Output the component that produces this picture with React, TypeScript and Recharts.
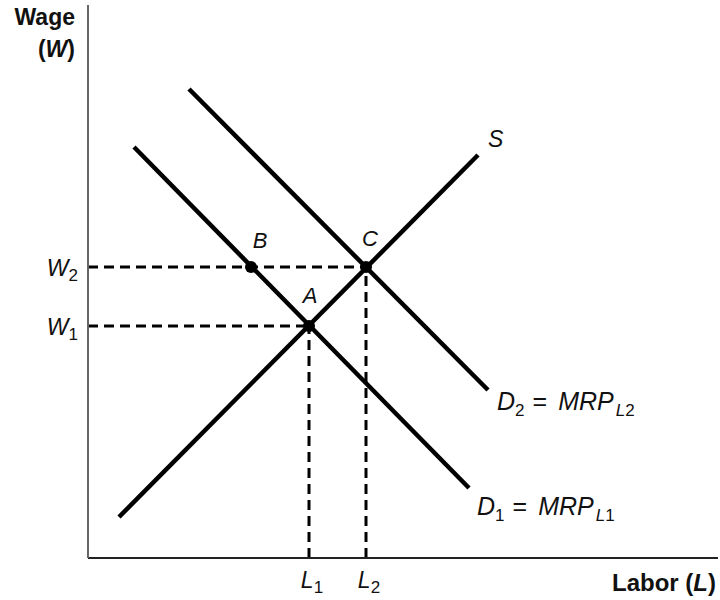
import { ComposedChart, Line, XAxis, YAxis, ReferenceLine, ReferenceDot } from "recharts"

// labor (x) and wage (y) in arbitrary units
const supplyX = [3.1, 39.0]
const supplyY = [4.1, 40.3]
const demand1X = [4.6, 38.1]
const demand1Y = [41.1, 7.0]
const demand2X = [10.1, 40.0]
const demand2Y = [46.9, 16.8]

const pointNames = ["A", "B", "C"]
const pointX = [22.1, 16.3, 27.8]
const pointY = [23.2, 29.1, 29.1]

const wageTicks = [23.2, 29.1]
const wageSubs = ["1", "2"]
const laborTicks = [22.1, 27.8]
const laborSubs = ["1", "2"]

const FONT = "'Liberation Sans', Arial, Helvetica, sans-serif"

const toSeries = (xs: number[], ys: number[]) => xs.map((x, i) => ({ x, y: ys[i] }))
const supply = toSeries(supplyX, supplyY)
const demand1 = toSeries(demand1X, demand1Y)
const demand2 = toSeries(demand2X, demand2Y)

// label placement relative to each point (pixels)
const pointLabelOffset: Record<string, [number, number]> = {
  A: [1, -23],
  B: [9, -19],
  C: [4, -21],
}

const center = (props: any) => {
  const vb = props.viewBox ?? { x: props.x, y: props.y, width: 0, height: 0 }
  return { cx: vb.x + (vb.width || 0) / 2, cy: vb.y + (vb.height || 0) / 2 }
}

const PointLabel = (name: string) => (props: any) => {
  const { cx, cy } = center(props)
  const [dx, dy] = pointLabelOffset[name]
  return (
    <text x={cx + dx} y={cy + dy} textAnchor="middle" fontFamily={FONT} fontSize={22} fontStyle="italic" fill="#111">
      {name}
    </text>
  )
}

const SupplyLabel = (props: any) => {
  const { cx, cy } = center(props)
  return (
    <text x={cx + 10} y={cy - 8} fontFamily={FONT} fontSize={23} fontStyle="italic" fill="#111">
      S
    </text>
  )
}

const DemandLabel = (sub: string, dx: number, dy: number) => (props: any) => {
  const { cx, cy } = center(props)
  return (
    <text x={cx + dx} y={cy + dy} fontFamily={FONT} fontSize={25} fill="#111">
      <tspan fontStyle="italic">D</tspan>
      <tspan fontSize={17} dy={6}>{sub}</tspan>
      <tspan dy={-6} dx={8}>=</tspan>
      <tspan dx={11} fontStyle="italic">MRP</tspan>
      <tspan fontSize={17} dy={6} dx={2} fontStyle="italic">L</tspan>
      <tspan fontSize={17}>{sub}</tspan>
    </text>
  )
}

const WageTick = (props: any) => {
  const { x, y, payload } = props
  const i = wageTicks.indexOf(payload.value)
  return (
    <text x={x - 10} y={y + 9} textAnchor="end" fontFamily={FONT} fontSize={23} fill="#111">
      <tspan fontStyle="italic">W</tspan>
      <tspan fontSize={17} dy={5}>{wageSubs[i]}</tspan>
    </text>
  )
}

const LaborTick = (props: any) => {
  const { x, y, payload } = props
  const i = laborTicks.indexOf(payload.value)
  return (
    <text x={x + 3} y={y + 30} textAnchor="middle" fontFamily={FONT} fontSize={23} fill="#111">
      <tspan fontStyle="italic">L</tspan>
      <tspan fontSize={17} dy={5}>{laborSubs[i]}</tspan>
    </text>
  )
}

const WageTitle = (props: any) => {
  const vb = props.viewBox
  const right = vb.x + vb.width - 13
  return (
    <g fontFamily={FONT} fontSize={23} fontWeight="bold" fill="#111">
      <text x={right} y={vb.y + 20} textAnchor="end">Wage</text>
      <text x={right} y={vb.y + 52} textAnchor="end">
        (<tspan fontStyle="italic">W</tspan>)
      </text>
    </g>
  )
}

const LaborTitle = (props: any) => {
  const vb = props.viewBox
  return (
    <text x={vb.x + vb.width - 2} y={vb.y + 33} textAnchor="end" fontFamily={FONT} fontSize={24} fontWeight="bold" fill="#111">
      Labor (<tspan fontStyle="italic">L</tspan>)
    </text>
  )
}

const curve = { stroke: "#000", strokeWidth: 4.5, dot: false, activeDot: false, isAnimationActive: false, type: "linear" as const }
const dashed = { stroke: "#000", strokeWidth: 3, strokeDasharray: "10 6" }

export default function App() {
  return (
    <div style={{ position: "absolute", left: 0, top: 0, width: 720, height: 600, background: "#fff" }}>
      <ComposedChart width={720} height={600} margin={{ top: 5, right: 2, bottom: 0, left: 0 }}>
        <XAxis
          dataKey="x"
          type="number"
          domain={[0, 63]}
          allowDataOverflow
          height={42}
          ticks={laborTicks}
          tick={<LaborTick />}
          tickLine={false}
          tickSize={0}
          tickMargin={0}
          axisLine={{ stroke: "#222", strokeWidth: 2 }}
          label={<LaborTitle />}
        />
        <YAxis
          dataKey="y"
          type="number"
          domain={[0, 55.3]}
          allowDataOverflow
          width={88}
          ticks={wageTicks}
          tick={<WageTick />}
          tickLine={false}
          tickSize={0}
          tickMargin={0}
          axisLine={{ stroke: "#666", strokeWidth: 2 }}
          label={<WageTitle />}
        />

        <ReferenceLine segment={[{ x: 0, y: wageTicks[1] }, { x: laborTicks[1], y: wageTicks[1] }]} {...dashed} />
        <ReferenceLine segment={[{ x: 0, y: wageTicks[0] }, { x: laborTicks[0], y: wageTicks[0] }]} {...dashed} />
        <ReferenceLine segment={[{ x: laborTicks[0], y: 0 }, { x: laborTicks[0], y: wageTicks[0] }]} {...dashed} />
        <ReferenceLine segment={[{ x: laborTicks[1], y: 0 }, { x: laborTicks[1], y: wageTicks[1] }]} {...dashed} />

        <Line data={supply} dataKey="y" {...curve} />
        <Line data={demand1} dataKey="y" {...curve} />
        <Line data={demand2} dataKey="y" {...curve} />

        <ReferenceDot x={supplyX[1]} y={supplyY[1]} r={1} fill="none" stroke="none" label={SupplyLabel} />
        <ReferenceDot x={demand2X[1]} y={demand2Y[1]} r={1} fill="none" stroke="none" label={DemandLabel("2", 9, 20)} />
        <ReferenceDot x={demand1X[1]} y={demand1Y[1]} r={1} fill="none" stroke="none" label={DemandLabel("1", 8, 27)} />

        {pointNames.map((name, i) => (
          <ReferenceDot
            key={name}
            x={pointX[i]}
            y={pointY[i]}
            r={6}
            fill="#000"
            stroke="none"
            label={PointLabel(name)}
          />
        ))}
      </ComposedChart>
    </div>
  )
}
